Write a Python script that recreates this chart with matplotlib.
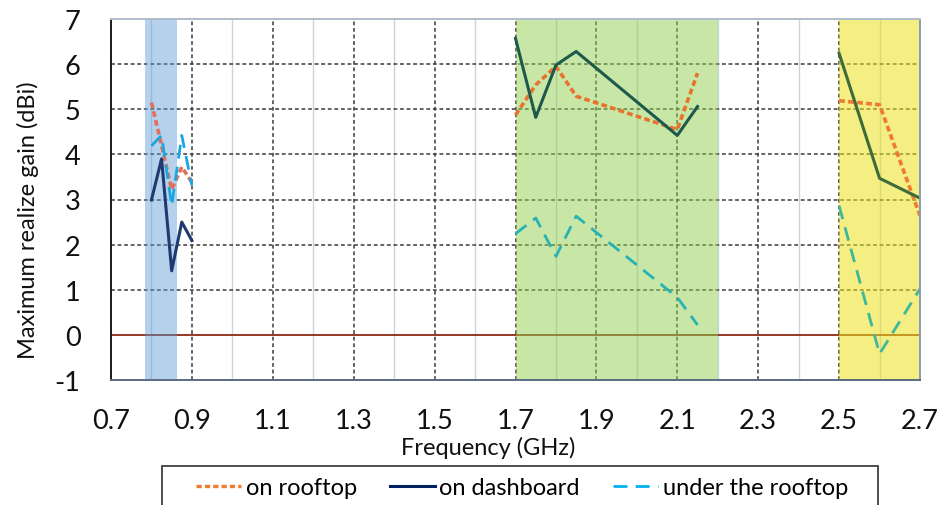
import matplotlib.pyplot as plt
from matplotlib.patches import Rectangle
from matplotlib.lines import Line2D

plt.rcParams['font.family'] = ['Lato', 'DejaVu Sans']
plt.rcParams['axes.unicode_minus'] = False

freq_low = [0.80, 0.825, 0.85, 0.875, 0.90]
rooftop_low = [5.15, 4.20, 3.22, 3.72, 3.38]
dashboard_low = [2.99, 3.90, 1.42, 2.50, 2.09]
under_low = [4.19, 4.42, 2.86, 4.42, 3.31]

freq_mid = [1.70, 1.75, 1.80, 1.85, 2.10, 2.15]
rooftop_mid = [4.87, 5.54, 5.95, 5.29, 4.55, 5.80]
dashboard_mid = [6.57, 4.82, 5.98, 6.28, 4.42, 5.06]
under_mid = [2.24, 2.59, 1.74, 2.63, 0.83, 0.22]

freq_high = [2.50, 2.60, 2.70]
rooftop_high = [5.19, 5.10, 2.64]
dashboard_high = [6.24, 3.47, 3.03]
under_high = [2.86, -0.42, 1.02]

bands = [(0.784, 0.863), (1.70, 2.20), (2.50, 2.70)]
band_colors = ['#5B9BD5', '#92D050', '#EBE11E']
band_alpha = [0.45, 0.5, 0.55]

xticks = [0.7, 0.9, 1.1, 1.3, 1.5, 1.7, 1.9, 2.1, 2.3, 2.5, 2.7]
yticks = list(range(-1, 8))

W, H = 942, 506
fig = plt.figure(figsize=(W / 100, H / 100), dpi=100)
ax = fig.add_axes([111 / W, 1 - 381 / H, 809 / W, 361 / H])

# grid
for y in yticks[1:-1]:
    if y == 0:
        continue
    ax.axhline(y, color='#3a3a3a', lw=1.1, ls=(0, (2.5, 1.8)), zorder=0.5)
for x in xticks[1:-1]:
    ax.axvline(x, color='#3a3a3a', lw=1.1, ls=(0, (2.5, 1.8)), zorder=0.5)
for k in range(10):
    ax.axvline(0.8 + 0.2 * k, color='#c8d4e0', lw=1.0, zorder=0.4)
ax.axhline(0, color='#8B2A10', lw=1.3, zorder=0.6)

for (a, b), c, al in zip(bands, band_colors, band_alpha):
    ax.axvspan(a, b, color=c, alpha=al, lw=0, zorder=1)

# series: colours shift inside each shaded band as in the original
segments = [
    (freq_low, rooftop_low, dashboard_low, under_low,
     ['#E0705E', '#1F3A70', '#1AA6E0']),
    (freq_mid, rooftop_mid, dashboard_mid, under_mid,
     ['#E8732E', '#1E5A4C', '#27B2B4']),
    (freq_high, rooftop_high, dashboard_high, under_high,
     ['#EE7A33', '#3E6B3A', '#3DB89A']),
]
for f, r, d, u, cols in segments:
    ax.plot(f, r, color=cols[0], lw=2.6, ls=(0, (1.6, 0.9)), zorder=3)
    ax.plot(f, d, color=cols[1], lw=2.2, zorder=3)
    ax.plot(f, u, color=cols[2], lw=2.0, ls=(0, (5, 3)), zorder=3)

ax.set_xlim(0.7, 2.7)
ax.set_ylim(-1, 7)
ax.set_xticks(xticks)
ax.set_xticklabels([f'{v:.1f}' for v in xticks])
ax.set_yticks(yticks)
ax.tick_params(axis='both', length=0, labelsize=19.5, colors='#111111')
ax.tick_params(axis='x', pad=20)
ax.tick_params(axis='y', pad=22)

ax.spines['left'].set_color('#1a1a1a')
ax.spines['bottom'].set_color('#5a6b80')
ax.spines['right'].set_color('#8a9bb0')
ax.spines['top'].set_color('#b0bccb')
for s in ax.spines.values():
    s.set_linewidth(1.4)
    s.set_zorder(4)

fig.text(488 / W, 1 - 448 / H, 'Frequency (GHz)', fontsize=17,
         ha='center', va='center', color='#111111')
fig.text(28 / W, 1 - 220 / H, 'Maximum realize gain (dBi)', fontsize=17,
         rotation=90, ha='center', va='center', color='#111111')

# legend
handles = [
    Line2D([], [], color='#ED7D31', lw=2.4, ls=(0, (1.6, 0.9))),
    Line2D([], [], color='#002060', lw=2.2),
    Line2D([], [], color='#00B0F0', lw=2.0, ls=(0, (5, 3))),
]
labels = ['on rooftop', 'on dashboard', 'under the rooftop']
fig.legend(handles, labels, loc='center', ncol=3, frameon=False,
           bbox_to_anchor=(522 / W, 1 - 489 / H), fontsize=17,
           handlelength=1.9, handletextpad=0.2, columnspacing=1.4,
           borderpad=0, borderaxespad=0)
fig.patches.append(Rectangle((162 / W, 1 - 520 / H), 716 / W, 53 / H,
                             transform=fig.transFigure, fill=False,
                             edgecolor='#404040', lw=1.3))

fig.savefig('out.png', dpi=100)
